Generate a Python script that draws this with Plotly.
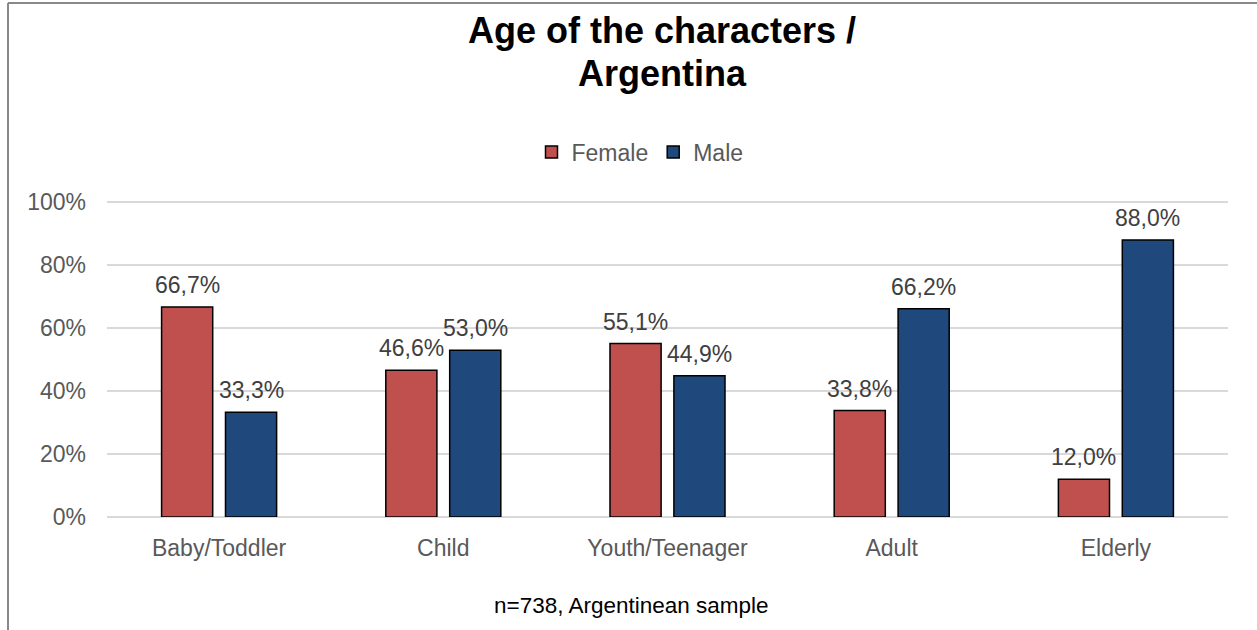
import plotly.graph_objects as go

categories = ['Baby/Toddler', 'Child', 'Youth/Teenager', 'Adult', 'Elderly']
female = [66.7, 46.6, 55.1, 33.8, 12.0]
male = [33.3, 53.0, 44.9, 66.2, 88.0]
y_ticks = [0, 20, 40, 60, 80, 100]
title_lines = ['Age of the characters /', 'Argentina']
footer = 'n=738, Argentinean sample'

W, H = 1257, 630
L, R, T, B = 107, 29, 201, 113
FONT = 'Arial, Liberation Sans, sans-serif'


def px_x(p):
    return (p - L) / (W - L - R)


def px_y(p):
    return (H - B - p) / (H - T - B)


def label(v):
    return f'{v:.1f}%'.replace('.', ',')


fig = go.Figure()
fig.add_trace(go.Bar(name='Female', x=categories, y=female,
                     marker=dict(color='#C0504D', line=dict(color='#000000', width=1.5))))
fig.add_trace(go.Bar(name='Male', x=categories, y=male,
                     marker=dict(color='#1F497D', line=dict(color='#000000', width=1.5))))

# data labels above bars
annotations = []
for vals, shift in ((female, -32), (male, 32)):
    for c, v in zip(categories, vals):
        annotations.append(dict(x=c, y=v, text=label(v), showarrow=False, xshift=shift,
                                yanchor='bottom', yshift=7,
                                font=dict(family=FONT, size=23, color='#404040')))

# title, one annotation per line to control the line spacing
for line, ypx in zip(title_lines, (30, 73)):
    annotations.append(dict(text=f'<b>{line}</b>', xref='paper', yref='paper',
                            x=px_x(662), y=px_y(ypx), showarrow=False, xanchor='center', yanchor='middle',
                            font=dict(family=FONT, size=36, color='#000000')))
annotations.append(dict(text=footer, xref='paper', yref='paper',
                        x=px_x(631), y=px_y(605), showarrow=False, xanchor='center', yanchor='middle',
                        font=dict(family=FONT, size=22.5, color='#000000')))

# chart frame (left and top edges visible)
shapes = [
    dict(type='line', xref='paper', yref='paper', x0=px_x(8), x1=px_x(8), y0=px_y(3), y1=px_y(640),
         line=dict(color='#898989', width=2)),
    dict(type='line', xref='paper', yref='paper', x0=px_x(8), x1=px_x(1270), y0=px_y(3), y1=px_y(3),
         line=dict(color='#898989', width=2)),
]

fig.update_layout(
    width=W, height=H,
    margin=dict(l=L, r=R, t=T, b=B),
    paper_bgcolor='white', plot_bgcolor='white',
    barmode='group', bargap=0.43, bargroupgap=0.2,
    font=dict(family=FONT, size=23, color='#595959'),
    legend=dict(orientation='h', x=px_x(640), y=px_y(152), xanchor='center', yanchor='middle',
                font=dict(family=FONT, size=23, color='#595959'), itemwidth=30, traceorder='normal'),
    annotations=annotations,
    shapes=shapes,
    showlegend=True,
)
fig.update_yaxes(range=[0, 100.4], tickvals=y_ticks, ticktext=[f'{t}%' for t in y_ticks],
                 showgrid=True, gridcolor='#D9D9D9', gridwidth=1.5,
                 zeroline=True, zerolinecolor='#D9D9D9', zerolinewidth=1.5,
                 showline=False, ticks='', ticklabelstandoff=20,
                 tickfont=dict(family=FONT, size=23, color='#595959'))
fig.update_xaxes(showgrid=False, showline=False, ticks='', ticklabelstandoff=15,
                 tickfont=dict(family=FONT, size=23, color='#595959'))

# page body has a default margin; drop it so the chart sits at the window corner
fig.write_html('out.html', config={'displayModeBar': False},
               post_script="document.body.style.margin='0';")
